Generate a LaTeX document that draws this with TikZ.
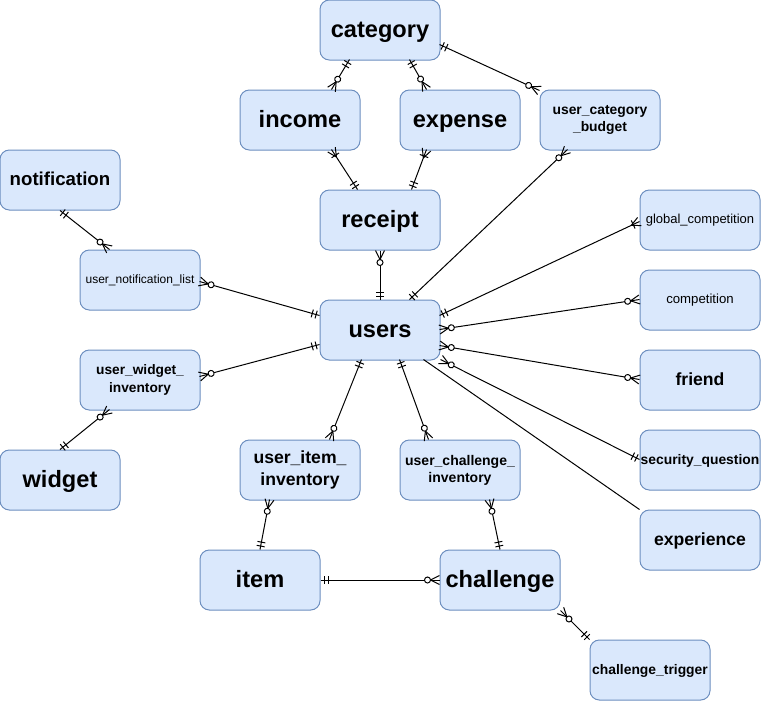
\documentclass[tikz,border=0pt]{standalone}
\usepackage{fontspec}
\setmainfont{Liberation Sans}
\usetikzlibrary{calc,decorations.markings}
\definecolor{boxfill}{HTML}{DAE8FC}
\definecolor{boxline}{HTML}{6C8EBF}
% ER end markers, drawn in the marking frame (x along the line)
\newcommand\ERbars[1]{\draw[line width=0.75pt] (#1*3.5,-4) -- (#1*3.5,4) (#1*7.5,-4) -- (#1*7.5,4);}
\newcommand\ERzm[1]{\draw[line width=0.75pt] (#1*9,0) -- (0,-4.5) (#1*9,0) -- (0,4.5);
  \draw[line width=0.75pt,fill=white] (#1*12,0) circle[radius=3];}
\newcommand\ERom[1]{\draw[line width=0.75pt] (#1*9,0) -- (0,-4.5) (#1*9,0) -- (0,4.5) (#1*7,-4.5) -- (#1*7,4.5);}
\tikzset{
  ent/.style={draw=boxline, fill=boxfill, rounded corners=7pt, minimum width=90pt,
    minimum height=45pt, inner sep=0pt, line width=0.75pt, align=center, text=black},
  big/.style={font=\fontsize{17.7}{21}\selectfont\bfseries, text height=15.9pt, text depth=5.3pt},
  mid/.style={font=\fontsize{13.2}{16.2}\selectfont\bfseries},
  midone/.style={mid, text height=11.9pt, text depth=4pt},
  sml/.style={font=\fontsize{10.4}{12.8}\selectfont\bfseries},
  smlone/.style={sml, text height=9.4pt, text depth=3.1pt},
  rel/.style={line width=0.75pt, black},
  sOne/.style={postaction={decorate,decoration={markings,mark=at position 0 with {\ERbars{1}}}}},
  eOne/.style={postaction={decorate,decoration={markings,mark=at position 1 with {\ERbars{-1}}}}},
  sZM/.style={postaction={decorate,decoration={markings,mark=at position 0 with {\ERzm{1}}}}},
  eZM/.style={postaction={decorate,decoration={markings,mark=at position 1 with {\ERzm{-1}}}}},
  sOM/.style={postaction={decorate,decoration={markings,mark=at position 0 with {\ERom{1}}}}},
  eOM/.style={postaction={decorate,decoration={markings,mark=at position 1 with {\ERom{-1}}}}},
}
\begin{document}
\begin{tikzpicture}[x=0.75pt,y=-0.75pt]
\useasboundingbox (0,0) rectangle (761,701);
% entities
\node[ent,big] (category) at (380,30) {category};
\node[ent,big] (income) at (300,120) {income};
\node[ent,big] (expense) at (460,120) {expense};
\node[ent,sml] (ucb) at (600,120) {user\_category\\\_budget};
\node[ent,font=\fontsize{14}{16.8}\selectfont\bfseries, text height=12.6pt, text depth=4.2pt] (notification) at (60,180) {notification};
\node[ent,big] (receipt) at (380,220) {receipt};
\node[ent,font=\fontsize{9}{11}\selectfont, text height=8.1pt, text depth=2.7pt] (unl) at (140,280) {user\_notification\_list};
\node[ent,big] (users) at (380,330) {users};
\node[ent,font=\fontsize{9.75}{12}\selectfont, text height=8.8pt, text depth=2.9pt] (gc) at (700,220) {global\_competition};
\node[ent,font=\fontsize{9.9}{12}\selectfont, text height=8.9pt, text depth=3pt] (comp) at (700,300) {competition};
\node[ent,midone] (friend) at (700,380) {friend};
\node[ent,smlone] (sq) at (700,460) {security\_question};
\node[ent,midone] (exp) at (700,540) {experience};
\node[ent,font=\fontsize{10.3}{13}\selectfont\bfseries] (uwi) at (140,380) {user\_widget\_\\inventory};
\node[ent,big] (widget) at (60,480) {widget};
\node[ent,mid] (uii) at (300,470) {user\_item\_\\inventory};
\node[ent,font=\fontsize{10.5}{12.6}\selectfont\bfseries] (uci) at (460,470) {user\_challenge\_\\inventory};
\node[ent,big] (item) at (260,580) {item};
\node[ent,big] (challenge) at (500,580) {challenge};
\node[ent,smlone] (ct) at (650,670) {challenge\_trigger};
% relationships
\draw[rel,sOne,eZM] ($(category.north west)+(30,60)$) -- ($(income.north west)+(92,0)$);
\draw[rel,sOne,eZM] ($(category.north west)+(90,60)$) -- ($(expense.north west)+(27,0)$);
\draw[rel,sOne,eZM] ($(category.north west)+(120,45)$) -- ($(ucb.north west)+(0,1)$);
\draw[rel,sOM,eOne] ($(income.north west)+(92,60)$) -- ($(receipt.north west)+(38,0)$);
\draw[rel,sOM,eOne] ($(expense.north west)+(27,60)$) -- ($(receipt.north west)+(92,0)$);
\draw[rel,sZM,eOne] (receipt.south) -- (users.north);
\draw[rel,sZM,eOne] ($(ucb.north west)+(28,60)$) -- ($(users.north west)+(90,0)$);
\draw[rel,sOne,eZM] (notification.south) -- ($(unl.north west)+(30,0)$);
\draw[rel,sZM,eOne] ($(unl.north west)+(120,32)$) -- ($(users.north west)+(0,16)$);
\draw[rel,sOne,eOM] ($(users.north west)+(120,16)$) -- ($(gc.north west)+(0,32)$);
\draw[rel,sZM,eZM] ($(users.north west)+(120,30)$) -- ($(comp.north west)+(0,30)$);
\draw[rel,sZM,eZM] ($(users.north west)+(120,46)$) -- ($(friend.north west)+(0,30)$);
\draw[rel,sZM,eOne] ($(users.north west)+(121,60)$) -- ($(sq.north west)+(0,30)$);
\draw[rel] ($(users.north west)+(104,60)$) -- (exp.north west);
\draw[rel,sOne,eZM] ($(users.north west)+(0,45)$) -- ($(uwi.north west)+(120,27)$);
\draw[rel,sZM,eOne] ($(uwi.north west)+(30,60)$) -- (widget.north);
\draw[rel,sOne,eZM] ($(users.north west)+(42,60)$) -- ($(uii.north west)+(90,0)$);
\draw[rel,sOne,eZM] ($(users.north west)+(80,60)$) -- ($(uci.north west)+(29,0)$);
\draw[rel,sZM,eOne] ($(uii.north west)+(30,60)$) -- (item.north);
\draw[rel,sZM,eOne] ($(uci.north west)+(90,60)$) -- (challenge.north);
\draw[rel,sOne,eZM] (item.east) -- (challenge.west);
\draw[rel,sZM,eOne] (challenge.south east) -- (ct.north west);
\end{tikzpicture}
\end{document}
